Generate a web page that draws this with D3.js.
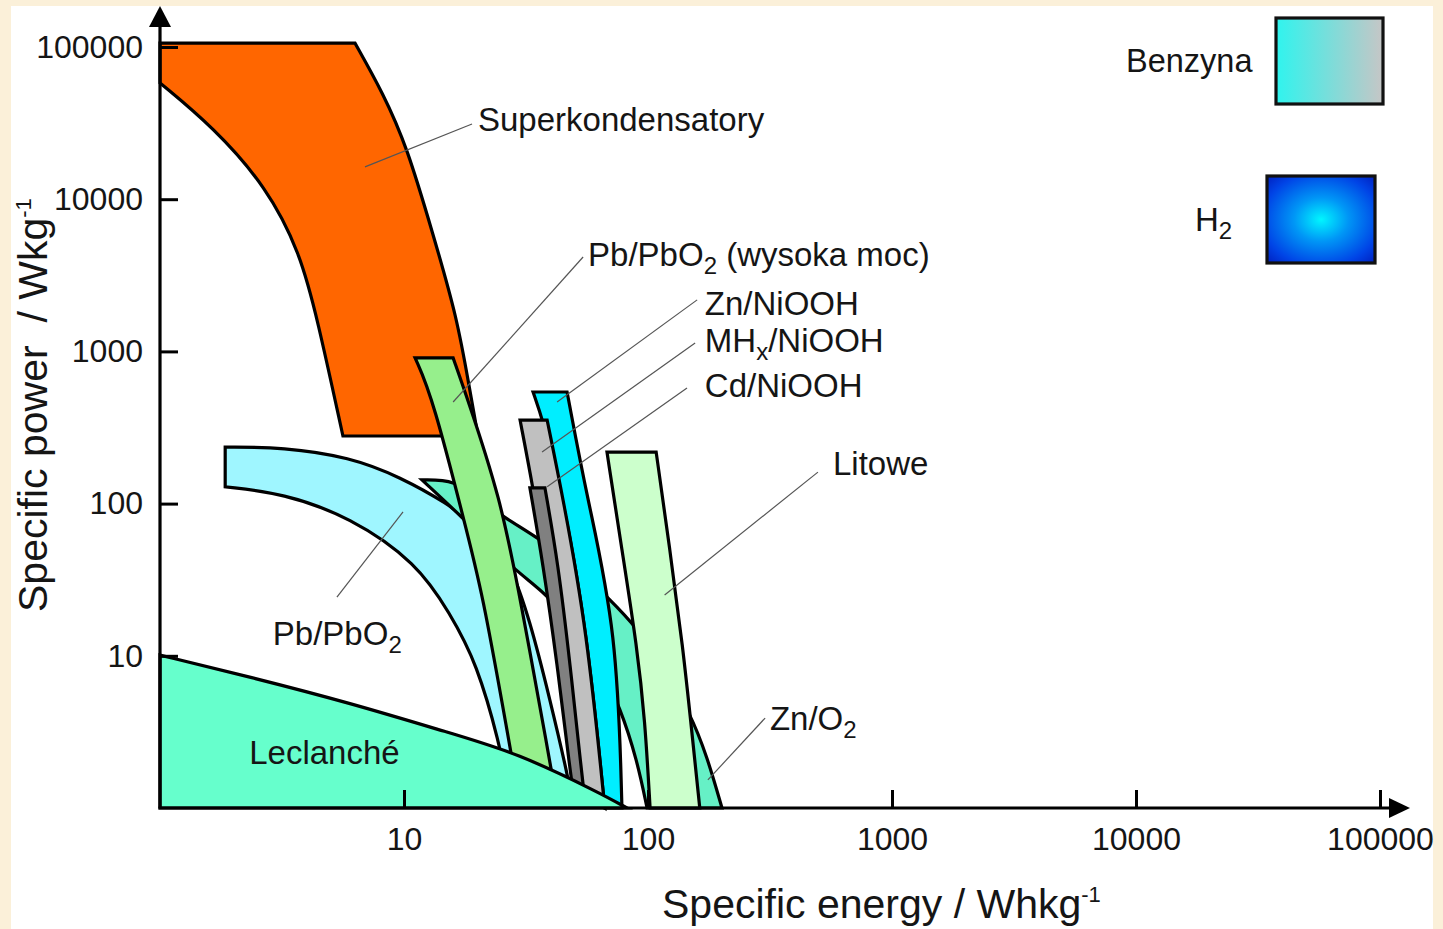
<!DOCTYPE html>
<html>
<head>
<meta charset="utf-8">
<script src="https://cdn.jsdelivr.net/npm/d3@7"></script>
<style>
  html, body { margin: 0; padding: 0; background: #fbf0d9; }
  svg { display: block; }
  text { font-family: "Liberation Sans", Arial, sans-serif; fill: #151515; }
</style>
</head>
<body>
<div id="chart"></div>
<script>
// Ragone plot, points are [specific energy Wh/kg, specific power W/kg]
const energyTicks = [10, 100, 1000, 10000, 100000];
const powerTicks = [10, 100, 1000, 10000, 100000];

// Superkondensatory
const superTop = [[1, 106000]];
const superOuter = [[6.3, 106000], [8.2, 49900], [10.3, 22000], [13.1, 6000], [16.5, 1680], [18.6, 557], [20.1, 278]];
const superInner = [[1, 58000], [1.65, 29800], [2.74, 12000], [3.75, 4430], [4.4, 1680], [5.62, 278]];

// Pb/PbO2
const pbUpper = [[1.85, 235], [3.19, 235], [6.01, 202], [9.63, 150], [15.4, 97.9], [17.8, 80.4], [22.5, 57.7], [27.2, 40.7], [32.8, 17.2], [39.7, 5.12], [46.6, 1.7], [47.9, 1.31]];
const pbLower = [[1.85, 129], [3.19, 117], [6.01, 81.7], [11.3, 40.7], [15.4, 19.1], [19.9, 8.97], [24.8, 2.52], [25.9, 1.65]];

// Zn/O2
const znO2Upper = [[11.85, 143], [16.2, 143], [20.5, 107], [25.5, 81.7], [35.1, 60.3], [50.2, 39.5], [69.9, 23.3], [88.5, 15.9], [114, 8.7], [149, 4.21], [175, 2.16], [201, 1]];
const znO2Lower = [[11.85, 143], [17.8, 78], [22.5, 53.5], [28.5, 36.6], [37.8, 25.9], [50.2, 15.9], [63.6, 8.7], [76.8, 4.61], [90.2, 2.07], [99.1, 1]];

// Pb/PbO2 (wysoka moc)
const pbHighLeft = [[11.1, 906], [13.1, 502], [18.6, 55.1], [21.1, 24.3], [27.2, 2.52], [28.0, 1.92]];
const pbHighRight = [[15.9, 906], [18.1, 502], [24.8, 110], [29.9, 24.3], [39.7, 1.98], [40.8, 1.53]];

// Zn/NiOOH
const znNiLeft = [[33.8, 541], [37.1, 354], [44.8, 110], [56.2, 14.8], [66.5, 1]];
const znNiRight = [[46.6, 541], [56.2, 110], [74.6, 14.8], [78.2, 1]];

// MHx/NiOOH
const mhLeft = [[29.9, 354], [33.8, 127], [37.8, 42.6], [45.7, 5.12], [51.7, 1.31]];
const mhRight = [[38.6, 354], [44.8, 110], [56.2, 14.8], [66.5, 1]];

// Cd/NiOOH
const cdLeft = [[32.8, 127], [37.1, 40.7], [42.4, 8.97], [47.9, 1.78], [49.3, 1.31]];
const cdRight = [[37.8, 127], [42.8, 40.7], [47.9, 8.97], [53.7, 1.6], [54.7, 1.255]];

// Litowe
const litLeft = [[67.9, 218], [78.2, 49.6], [90.2, 11.4], [97.2, 3.79], [102, 1]];
const litRight = [[108, 218], [123, 49.6], [139, 11.4], [151, 3.25], [163, 1]];

// Leclanché
const leclTop = [[1, 10.1], [2.34, 7.26], [6.01, 4.9], [15.4, 3.11], [29.1, 2.3], [63.6, 1.255], [82, 1]];
const leclCorner = [[1, 1]];

// labels: text pieces, text anchor and leader line in data units
const labels = [
  { text: [['Superkondensatory']], at: [20.1, 28100], lead: [[19.0, 31200], [6.92, 16300]] },
  { text: [['Pb/PbO'], ['2', 'sub'], [' (wysoka moc)']], at: [56.8, 3640], lead: [[54.2, 4170], [15.9, 465]] },
  { text: [['Zn/NiOOH']], at: [171, 1735], lead: [[159, 2180], [42.4, 465]] },
  { text: [['MH'], ['x', 'sub'], ['/NiOOH']], at: [171, 991], lead: [[156, 1135], [36.8, 218]] },
  { text: [['Cd/NiOOH']], at: [171, 502], lead: [[144.5, 575], [38.6, 129]] },
  { text: [['Litowe']], at: [573, 154], lead: [[497, 161], [117, 25.1]] },
  { text: [['Pb/PbO'], ['2', 'sub']], at: [2.9, 11.8], lead: [[5.31, 24.3], [9.91, 88.1]] },
  { text: [['Zn/O'], ['2', 'sub']], at: [316, 3.25], lead: [[302, 3.9], [176, 1.53]] },
  { text: [['Leclanché']], at: [2.32, 1.95], lead: null }
];

const W = 1443, H = 929;
const svg = d3.select('#chart').append('svg')
  .attr('width', W)
  .attr('height', H);

svg.append('rect')
  .attr('x', 11).attr('y', 6)
  .attr('width', 1422).attr('height', H - 6)
  .attr('fill', '#fff');

const x = d3.scaleLog().domain([1, 100000]).range([160, 1380]);
const y = d3.scaleLog().domain([1, 100000]).range([808, 47]);

const defs = svg.append('defs');
const benz = defs.append('linearGradient').attr('id', 'benz');
benz.append('stop').attr('offset', 0).attr('stop-color', '#2ff4ee');
benz.append('stop').attr('offset', 1).attr('stop-color', '#c6c6c6');
const h2 = defs.append('radialGradient').attr('id', 'h2').attr('r', 0.72);
h2.append('stop').attr('offset', 0).attr('stop-color', '#00f6ff');
h2.append('stop').attr('offset', 0.35).attr('stop-color', '#0096f6');
h2.append('stop').attr('offset', 0.75).attr('stop-color', '#0044e6');
h2.append('stop').attr('offset', 1).attr('stop-color', '#001cbc');

const curve = d3.line()
  .x(d => x(d[0]))
  .y(d => y(d[1]))
  .curve(d3.curveBasis);

// join edges into one closed outline
function outline(parts) {
  let d = '';
  parts.forEach((pts, i) => {
    let s;
    if (pts.length === 1) s = 'M' + x(pts[0][0]) + ',' + y(pts[0][1]);
    else s = curve(pts);
    d += i === 0 ? s : 'L' + s.slice(1);
  });
  return d + 'Z';
}

const rev = a => a.slice().reverse();

const shapes = [
  { name: 'Superkondensatory', fill: '#ff6600', parts: [superTop, superOuter, rev(superInner)] },
  { name: 'Pb/PbO2', fill: '#9ff6ff', parts: [pbUpper, rev(pbLower)] },
  { name: 'Zn/O2', fill: '#66f0c6', parts: [znO2Upper, rev(znO2Lower)] },
  { name: 'Pb/PbO2 (wysoka moc)', fill: '#96ef8c', parts: [pbHighLeft, rev(pbHighRight)] },
  { name: 'Zn/NiOOH', fill: '#00eeff', parts: [znNiLeft, rev(znNiRight)] },
  { name: 'MHx/NiOOH', fill: '#c0c0c0', parts: [mhLeft, rev(mhRight)] },
  { name: 'Cd/NiOOH', fill: '#808080', parts: [cdLeft, rev(cdRight)] },
  { name: 'Litowe', fill: '#ccffcc', parts: [litLeft, rev(litRight)] },
  { name: 'Leclanché', fill: '#66ffcc', parts: [leclTop, leclCorner] }
];

svg.append('g')
  .selectAll('path')
  .data(shapes)
  .enter().append('path')
  .attr('d', d => outline(d.parts))
  .attr('fill', d => d.fill)
  .attr('stroke', '#000')
  .attr('stroke-width', 3.2)
  .attr('stroke-linejoin', 'miter');

// leader lines
svg.append('g')
  .selectAll('line')
  .data(labels.filter(d => d.lead))
  .enter().append('line')
  .attr('x1', d => x(d.lead[0][0]))
  .attr('y1', d => y(d.lead[0][1]))
  .attr('x2', d => x(d.lead[1][0]))
  .attr('y2', d => y(d.lead[1][1]))
  .attr('stroke', '#555')
  .attr('stroke-width', 1.2);

function richText(sel, pieces, big, small, shift) {
  let state = 0;
  pieces.forEach(p => {
    const t = sel.append('tspan').text(p[0]);
    if (p[1] === 'sub' || p[1] === 'sup') {
      const off = p[1] === 'sub' ? shift : -shift;
      t.attr('font-size', small).attr('dy', off - state);
      state = off;
    } else {
      t.attr('font-size', big);
      if (state) t.attr('dy', -state);
      state = 0;
    }
  });
}

const labelText = svg.append('g')
  .selectAll('text')
  .data(labels)
  .enter().append('text')
  .attr('x', d => x(d.at[0]))
  .attr('y', d => y(d.at[1]))
  .style('white-space', 'pre');
labelText.each(function (d) { richText(d3.select(this), d.text, 33, 24, 8); });

// legend for fuels
const legend = svg.append('g');
legend.append('text').attr('x', 1126).attr('y', 72).attr('font-size', 32.5).text('Benzyna');
legend.append('rect').attr('x', 1276).attr('y', 18).attr('width', 107).attr('height', 86)
  .attr('fill', 'url(#benz)').attr('stroke', '#111').attr('stroke-width', 3.2);
const h2Label = legend.append('text').attr('x', 1195).attr('y', 231);
richText(h2Label, [['H'], ['2', 'sub']], 33, 24, 8);
legend.append('rect').attr('x', 1267).attr('y', 176).attr('width', 108).attr('height', 87)
  .attr('fill', 'url(#h2)').attr('stroke', '#111').attr('stroke-width', 3.2);

// axes
const xAxis = svg.append('g')
  .attr('transform', 'translate(0,' + y(1) + ')')
  .call(d3.axisBottom(x).tickValues(energyTicks).tickFormat(d3.format('d'))
    .tickSize(-18).tickSizeOuter(0).tickPadding(19));
const yAxis = svg.append('g')
  .attr('transform', 'translate(' + x(1) + ',0)')
  .call(d3.axisLeft(y).tickValues(powerTicks).tickFormat(d3.format('d'))
    .tickSize(-18).tickSizeOuter(0).tickPadding(17));
[xAxis, yAxis].forEach(a => {
  a.select('.domain').remove();
  a.selectAll('.tick line').attr('stroke', '#000').attr('stroke-width', 3);
  a.selectAll('.tick text')
    .attr('font-size', 32)
    .attr('font-family', '"Liberation Sans", Arial, sans-serif')
    .attr('fill', '#151515');
});

const x0 = x(1), y0 = y(1);
svg.append('line').attr('x1', x0).attr('y1', y0).attr('x2', x0).attr('y2', 24)
  .attr('stroke', '#000').attr('stroke-width', 3.2);
svg.append('line').attr('x1', x0 - 1.5).attr('y1', y0).attr('x2', 1392).attr('y2', y0)
  .attr('stroke', '#000').attr('stroke-width', 3.2);
svg.append('path')
  .attr('d', `M${x0 - 11},27L${x0},6L${x0 + 11},27Z`)
  .attr('fill', '#000');
svg.append('path')
  .attr('d', `M1389,${y0 - 10}L1410,${y0}L1389,${y0 + 10}Z`)
  .attr('fill', '#000');

// axis titles
const xTitle = svg.append('text').attr('x', 662).attr('y', 918).style('white-space', 'pre');
richText(xTitle, [['Specific energy / Whkg'], ['-1', 'sup']], 41, 22, 16);
const yTitle = svg.append('text')
  .attr('transform', 'translate(47,612) rotate(-90)')
  .style('white-space', 'pre');
richText(yTitle, [['Specific power  / Wkg'], ['-1', 'sup']], 41, 22, 16);
</script>
</body>
</html>
